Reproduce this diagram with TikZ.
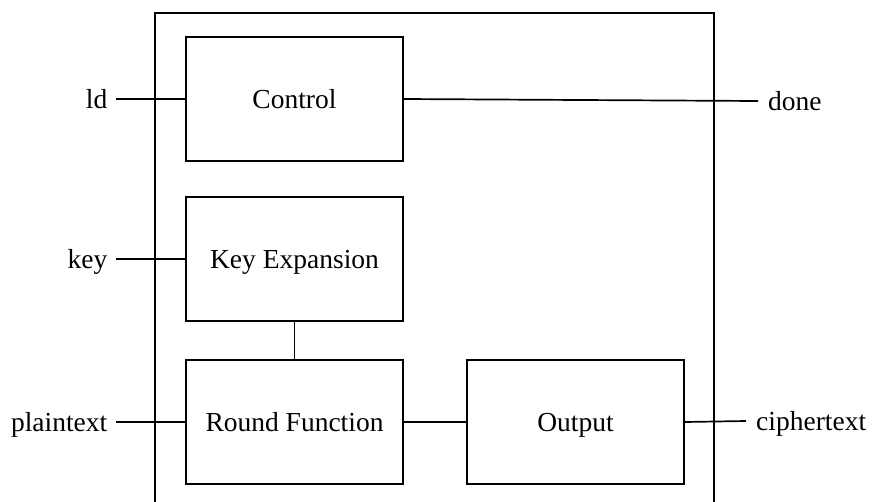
\documentclass[tikz,border=0pt]{standalone}
\usepackage{fontspec}
\setmainfont{Liberation Serif}
\begin{document}
\begin{tikzpicture}[x=1pt,y=-1pt,
  txt/.style={font=\fontsize{27.5}{33}\selectfont,text height=22pt,text depth=4pt},
  block/.style={txt,draw,line width=1.3pt,minimum width=217pt,minimum height=124pt,inner sep=0pt},
  portl/.style={txt,inner xsep=8.5pt,inner ysep=0pt},
  portr/.style={txt,inner xsep=10pt,inner ysep=0pt},
  wire/.style={line width=1.7pt}]
\useasboundingbox (0,0) rectangle (873,501);
\clip (0,0) rectangle (873,501);
% enclosing module outline (open towards the bottom)
\draw[line width=1.3pt] (155,510) -- (155,13) -- (714,13) -- (714,510);
% functional blocks
\node[block] (ctrl) at (294.5,99) {Control};
\node[block] (kexp) at (294.5,259) {Key Expansion};
\node[block] (rfun) at (294.5,422) {Round Function};
\node[block] (outp) at (575.5,422) {Output};
% external ports
\node[portl,anchor=east] (ld) at (116,99) {ld};
\node[portl,anchor=east] (key) at (116,259) {key};
\node[portl,anchor=east] (pt) at (116,422) {plaintext};
\node[portr,anchor=west] (done) at (758,101) {done};
\node[portr,anchor=west] (ct) at (746,421) {ciphertext};
% wiring
\draw[wire] (ld.east) -- (ctrl.west);
\draw[wire] (key.east) -- (kexp.west);
\draw[wire] (pt.east) -- (rfun.west);
\draw[wire] (ctrl.east) -- (done.west);
\draw[wire] (kexp.south) -- (rfun.north);
\draw[wire] (rfun.east) -- (outp.west);
\draw[wire] (outp.east) -- (ct.west);
\end{tikzpicture}
\end{document}
